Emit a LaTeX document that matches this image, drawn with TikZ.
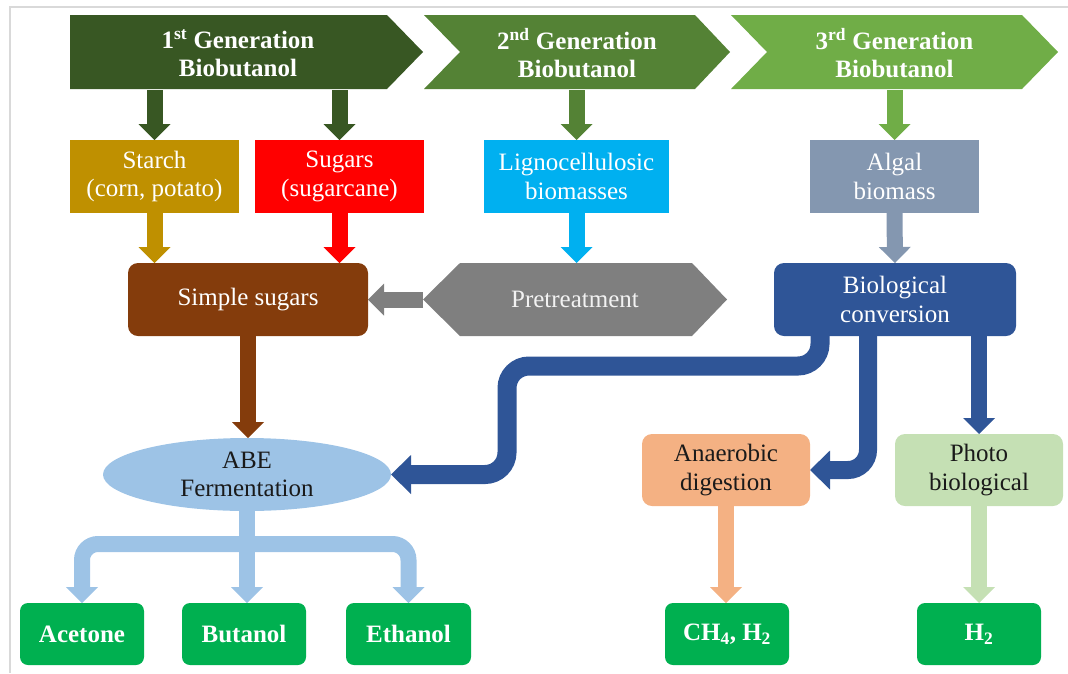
\documentclass[tikz,border=0pt]{standalone}
\usepackage{fontspec}
\setmainfont{Liberation Serif}
\usetikzlibrary{arrows.meta,shapes.geometric,backgrounds}
\definecolor{cgA}{HTML}{385723}
\definecolor{cgB}{HTML}{548235}
\definecolor{cgC}{HTML}{70AD47}
\definecolor{cStarch}{HTML}{BF9000}
\definecolor{cSugar}{HTML}{FF0000}
\definecolor{cLigno}{HTML}{00B0F0}
\definecolor{cAlgal}{HTML}{8497B0}
\definecolor{cSS}{HTML}{843C0C}
\definecolor{cPre}{HTML}{7F7F7F}
\definecolor{cBio}{HTML}{2F5597}
\definecolor{cABE}{HTML}{9DC3E6}
\definecolor{cAna}{HTML}{F4B183}
\definecolor{cPhoto}{HTML}{C5E0B4}
\definecolor{cGreen}{HTML}{00B050}
\definecolor{cFrame}{HTML}{D9D9D9}
\definecolor{cDark}{HTML}{1A1A1A}
\begin{document}
\begin{tikzpicture}[x=1pt,y=-1pt,
  txt/.style={font=\fontsize{25}{28.5}\selectfont, align=center, inner sep=0pt, outer sep=0pt},
  htxt/.style={font=\fontsize{25}{28.5}\selectfont\bfseries, align=center, inner sep=0pt, outer sep=0pt, text=white},
  sqbox/.style={txt, text=white, rectangle, minimum height=73pt},
  rbox/.style={txt, rectangle, rounded corners=10pt},
  gbox/.style={htxt, rectangle, rounded corners=8pt, fill=cGreen, minimum width=124pt, minimum height=62pt},
  arr/.style={line width=16pt, -{Triangle[length=16pt,width=32pt,line width=0pt]}},
  barr/.style={draw=cBio, line width=19pt, rounded corners=22pt, -{Triangle[length=20pt,width=39pt,line width=0pt]}},
  fork/.style={draw=cABE, line width=16pt, rounded corners=16pt, {Triangle[length=16pt,width=32pt,line width=0pt]}-{Triangle[length=16pt,width=32pt,line width=0pt]}}
]
\useasboundingbox (0,0) rectangle (1068,673);
% frame
\draw[cFrame, line width=2pt] (9.5,673) -- (9.5,6.5) -- (1068,6.5);
% chevrons
\fill[cgA] (70,15) -- (387,15) -- (423,52) -- (387,89) -- (70,89) -- cycle;
\fill[cgB] (424,15) -- (695,15) -- (730,52) -- (695,89) -- (424,89) -- (460,52) -- cycle;
\fill[cgC] (731,15) -- (1022,15) -- (1058,52) -- (1022,89) -- (731,89) -- (767,52) -- cycle;
\node[htxt, minimum height=74pt] (g1) at (238,53) {1\textsuperscript{st} Generation\\Biobutanol};
\node[htxt, minimum height=74pt] (g2) at (577,53) {2\textsuperscript{nd} Generation\\Biobutanol};
\node[htxt, minimum height=74pt] (g3) at (894.5,53) {3\textsuperscript{rd} Generation\\Biobutanol};
% row 2
\node[sqbox, fill=cStarch, minimum width=169pt] (starch) at (154.5,176.5) {Starch\\(corn, potato)};
\node[sqbox, fill=cSugar, minimum width=169pt] (sugars) at (339.5,176.5) {Sugars\\(sugarcane)};
\node[sqbox, fill=cLigno, minimum width=185pt] (ligno) at (576.5,176.5) {Lignocellulosic\\biomasses};
\node[sqbox, fill=cAlgal, minimum width=169pt] (algal) at (894.5,176.5) {Algal\\biomass};
% row 3
\fill[cPre] (423,299.5) -- (460,263) -- (692,263) -- (727,299.5) -- (692,336) -- (460,336) -- cycle;
\node[rbox, fill=cSS, text=white, minimum width=240pt, minimum height=73pt] (ss) at (248,299.5) {Simple sugars};
\node[txt, text=white!95!black, minimum width=304pt, minimum height=73pt] (pre) at (575,299.5) {Pretreatment};
\node[rbox, fill=cBio, text=white, minimum width=242pt, minimum height=73pt] (bio) at (895,299.5) {Biological\\conversion};
% row 4
\node[txt, ellipse, fill=cABE, text=cDark, minimum width=288pt, minimum height=73pt] (abe) at (247,474.5) {ABE\\Fermentation};
\node[rbox, fill=cAna, text=cDark, minimum width=168pt, minimum height=72pt] (ana) at (726,470) {Anaerobic\\digestion};
\node[rbox, fill=cPhoto, text=cDark, minimum width=168pt, minimum height=72pt] (photo) at (979,470) {Photo\\biological};
% products
\node[gbox] (acetone) at (82,634) {Acetone};
\node[gbox] (butanol) at (244,634) {Butanol};
\node[gbox, minimum width=125pt] (ethanol) at (408.5,634) {Ethanol};
\node[gbox] (ch4) at (727,634) {CH\textsubscript{4}, H\textsubscript{2}};
\node[gbox] (h2) at (979,634) {H\textsubscript{2}};
% connectors
\begin{scope}[on background layer]
\draw[arr, draw=cgA] (g1.south -| starch.north) -- (starch.north);
\draw[arr, draw=cgA] (g1.south -| sugars.north) -- (sugars.north);
\draw[arr, draw=cgB] (g2.south -| ligno.north) -- (ligno.north);
\draw[arr, draw=cgC] (g3.south -| algal.north) -- (algal.north);
\draw[arr, draw=cStarch] (starch.south) -- (starch.south |- ss.north);
\draw[arr, draw=cSugar] (sugars.south) -- (sugars.south |- ss.north);
\draw[arr, draw=cLigno] (ligno.south) -- (ligno.south |- pre.north);
\draw[arr, draw=cAlgal] (algal.south) -- (bio.north);
\draw[arr, draw=cPre] (pre.west) -- (ss.east);
\draw[arr, draw=cSS] (ss.south) -- (ss.south |- abe.north);
\draw[barr] ([xshift=-75pt,yshift=6pt]bio.south) -- ++(0,36) -- ++(-313,0) |- (abe.east);
\draw[barr, line width=18pt, rounded corners=20pt] ([xshift=-27pt,yshift=6pt]bio.south) |- (ana.east);
\draw[arr, draw=cBio] (bio.south -| photo.north) -- (photo.north);
\draw[arr, draw=cABE] (abe.south) -- (abe.south |- butanol.north);
\draw[fork] (acetone.north) |- ([yshift=-33pt]abe.south) -| (ethanol.north);
\draw[arr, draw=cAna] (ana.south) -- (ana.south |- ch4.north);
\draw[arr, draw=cPhoto] (photo.south) -- (h2.north);
\end{scope}
\end{tikzpicture}
\end{document}
